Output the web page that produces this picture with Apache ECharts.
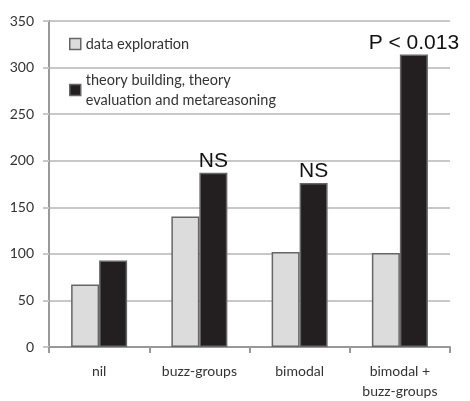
<!DOCTYPE html>
<html>
<head>
<meta charset="utf-8">
<script src="https://cdn.jsdelivr.net/npm/echarts@6/dist/echarts.min.js"></script>
<style>
  html, body { margin: 0; padding: 0; background: #fff; }
  #main { width: 470px; height: 401px; }
</style>
</head>
<body>
<div id="main"></div>
<script>
var categories = ['nil', 'buzz-groups', 'bimodal', 'bimodal +\nbuzz-groups'];
var exploration = [67, 140, 102, 101];
var theory = [93, 187, 176, 314];
var theoryNotes = ['', 'NS', 'NS', 'P < 0.013'];
var seriesNames = ['data exploration', 'theory building, theory\nevaluation and metareasoning'];

var chartDom = document.getElementById('main');
var myChart = echarts.init(chartDom);
var option;

var labelFont = 'Lato, "Open Sans", sans-serif';

option = {
  animation: false,
  grid: {
    left: 49,
    right: 20,
    top: 21,
    bottom: 54,
    containLabel: false,
    outerBoundsMode: 'none'
  },
  legend: {
    orient: 'vertical',
    left: 64,
    top: 29,
    icon: 'rect',
    itemWidth: 11,
    itemHeight: 11,
    itemGap: 16,
    textStyle: {
      fontFamily: labelFont,
      fontSize: 14.5,
      color: '#333',
      lineHeight: 20
    },
    data: [
      { name: seriesNames[0], itemStyle: { color: '#dcdcdc', borderColor: '#666', borderWidth: 1.5 } },
      { name: seriesNames[1], itemStyle: { color: '#231f20', borderColor: '#666', borderWidth: 1.5 } }
    ]
  },
  xAxis: {
    type: 'category',
    data: categories,
    axisLine: { lineStyle: { color: '#999', width: 2 } },
    axisTick: { show: true, length: 6, lineStyle: { color: '#999', width: 2 } },
    axisLabel: {
      fontFamily: labelFont,
      fontSize: 14,
      color: '#333',
      margin: 14,
      lineHeight: 20
    }
  },
  yAxis: {
    type: 'value',
    min: 0,
    max: 350,
    interval: 50,
    axisLine: { show: true, lineStyle: { color: '#999', width: 2 } },
    axisTick: { show: true, length: 6, lineStyle: { color: '#c8c8c8', width: 2 } },
    splitLine: { lineStyle: { color: '#c8c8c8', width: 2 } },
    axisLabel: {
      fontFamily: labelFont,
      fontSize: 14,
      color: '#333',
      margin: 15
    }
  },
  series: [
    {
      name: seriesNames[0],
      type: 'bar',
      data: exploration,
      barWidth: 28,
      barGap: '0%',
      itemStyle: { color: '#dcdcdc', borderColor: '#666', borderWidth: 1.5 }
    },
    {
      name: seriesNames[1],
      type: 'bar',
      data: theory,
      barWidth: 28,
      itemStyle: { color: '#231f20', borderColor: '#666', borderWidth: 1.5 },
      label: {
        show: true,
        position: 'top',
        distance: 1,
        fontFamily: '"Liberation Sans", Arial, sans-serif',
        fontSize: 21,
        color: '#111',
        formatter: function (p) { return theoryNotes[p.dataIndex]; }
      }
    }
  ]
};

option && myChart.setOption(option);
</script>
</body>
</html>
